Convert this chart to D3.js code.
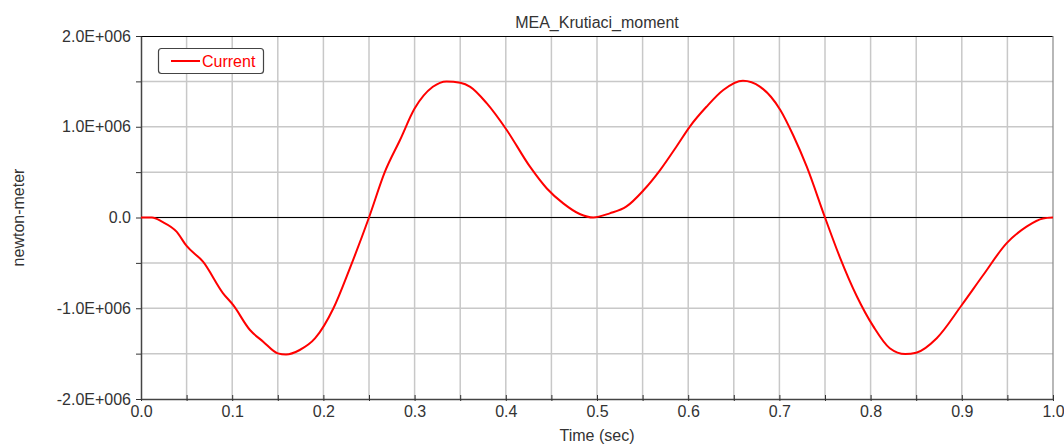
<!DOCTYPE html>
<html>
<head>
<meta charset="utf-8">
<script src="https://cdn.jsdelivr.net/npm/d3@7"></script>
<style>
  html, body { margin: 0; padding: 0; background: #fff; }
  svg { display: block; }
  text { font-family: "Liberation Sans", Arial, sans-serif; }
</style>
</head>
<body>
<svg id="chart" width="1064" height="445"></svg>
<script>
// ---- data ----
const title = "MEA_Krutiaci_moment";
const xLabel = "Time (sec)";
const yLabel = "newton-meter";
const seriesName = "Current";
const time = [0.000, 0.012, 0.023, 0.039, 0.050, 0.068, 0.090, 0.101, 0.1195, 0.134, 0.150, 0.159, 0.174, 0.191, 0.211, 0.229, 0.250,
  0.2675, 0.284, 0.300, 0.320, 0.335, 0.350, 0.361, 0.379, 0.401, 0.4265, 0.445, 0.463, 0.481, 0.496, 0.514, 0.532, 0.551,
  0.569, 0.587, 0.602, 0.620, 0.6385, 0.660, 0.679, 0.701, 0.715, 0.730, 0.750, 0.766, 0.785, 0.803, 0.821, 0.838, 0.850,
  0.8725, 0.900, 0.9235, 0.949, 0.971, 0.989, 1.000];
const moment = [0, 0, -0.046e6, -0.156e6, -0.314e6, -0.487e6, -0.835e6, -0.964e6, -1.24e6, -1.368e6, -1.497e6, -1.51e6, -1.46e6, -1.33e6, -1.0e6, -0.56e6, 0,
  0.505e6, 0.854e6, 1.20e6, 1.44e6, 1.50e6, 1.485e6, 1.44e6, 1.26e6, 0.964e6, 0.56e6, 0.32e6, 0.156e6, 0.039e6, 0, 0.046e6, 0.119e6, 0.30e6,
  0.52e6, 0.78e6, 1.005e6, 1.22e6, 1.405e6, 1.507e6, 1.44e6, 1.185e6, 0.909e6, 0.56e6, 0, -0.43e6, -0.87e6, -1.2e6, -1.44e6, -1.504e6, -1.49e6,
  -1.33e6, -0.964e6, -0.634e6, -0.285e6, -0.10e6, -0.01e6, 0];
const xTickLabels = ["0.0","0.1","0.2","0.3","0.4","0.5","0.6","0.7","0.8","0.9","1.0"];
const yTickLabels = ["-2.0E+006","-1.0E+006","0.0","1.0E+006","2.0E+006"];
const yTickValues = [-2e6, -1e6, 0, 1e6, 2e6];

// ---- layout ----
const L = 141, R = 1053, T = 36, B = 399;
const svg = d3.select("#chart");
const x = d3.scaleLinear().domain([0, 1]).range([L, R]);
const y = d3.scaleLinear().domain([-2e6, 2e6]).range([B, T]);

const xGrid = d3.range(0, 21).map(i => i * 0.05);
const yGrid = d3.range(0, 9).map(i => -2e6 + i * 0.5e6);

// grid
svg.append("g").selectAll("line").data(xGrid.slice(1, -1)).join("line")
  .attr("x1", d => x(d)).attr("x2", d => x(d)).attr("y1", T).attr("y2", B)
  .attr("stroke", "#c8c8c8").attr("stroke-width", 1.5);
svg.append("g").selectAll("line").data(yGrid.slice(1, -1)).join("line")
  .attr("x1", L).attr("x2", R).attr("y1", d => y(d)).attr("y2", d => y(d))
  .attr("stroke", "#c8c8c8").attr("stroke-width", 1.5);

// zero line
svg.append("line").attr("x1", L).attr("x2", R).attr("y1", y(0)).attr("y2", y(0))
  .attr("stroke", "#000").attr("stroke-width", 1);

// frame top/right
svg.append("line").attr("x1", L).attr("x2", R).attr("y1", T + 0.5).attr("y2", T + 0.5).attr("stroke", "#000").attr("stroke-width", 1.2);
svg.append("line").attr("x1", R).attr("x2", R).attr("y1", T).attr("y2", B).attr("stroke", "#888").attr("stroke-width", 1.2);

// axes
const xAxis = d3.axisBottom(x).tickValues(xGrid).tickSizeInner(2).tickSizeOuter(0).tickFormat("");
const gx = svg.append("g").attr("transform", `translate(0,${B})`).call(xAxis);
gx.select(".domain").attr("stroke", "#444").attr("stroke-width", 1.5);
gx.selectAll(".tick line").attr("stroke", "#333").attr("y1", -4).attr("y2", 2);

const xLabAxis = d3.axisBottom(x).tickValues(xTickLabels.map(Number)).tickSize(0).tickPadding(7)
  .tickFormat((d, i) => xTickLabels[i]);
const gxl = svg.append("g").attr("transform", `translate(0,${B})`).call(xLabAxis);
gxl.select(".domain").remove();
gxl.selectAll("text").attr("font-size", 16).attr("fill", "#333")
  .attr("font-family", "Liberation Sans, Arial, sans-serif");

const yAxis = d3.axisLeft(y).tickValues(yGrid).tickSizeInner(5).tickSizeOuter(0).tickFormat("");
const gy = svg.append("g").attr("transform", `translate(${L},0)`).call(yAxis);
gy.select(".domain").attr("stroke", "#444").attr("stroke-width", 1.5);
gy.selectAll(".tick line").attr("stroke", "#333");

const yLabAxis = d3.axisLeft(y).tickValues(yTickValues).tickSize(0).tickPadding(10)
  .tickFormat((d, i) => yTickLabels[i]);
const gyl = svg.append("g").attr("transform", `translate(${L},0)`).call(yLabAxis);
gyl.select(".domain").remove();
gyl.selectAll("text").attr("font-size", 16).attr("fill", "#333")
  .attr("font-family", "Liberation Sans, Arial, sans-serif");

// series
const data = time.map((t, i) => [t, moment[i]]);
const line = d3.line().x(d => x(d[0])).y(d => y(d[1])).curve(d3.curveMonotoneX);
svg.append("path").datum(data).attr("d", line)
  .attr("fill", "none").attr("stroke", "#ff0000").attr("stroke-width", 2);

// title and labels
svg.append("text").attr("x", (L + R) / 2).attr("y", 28).attr("text-anchor", "middle")
  .attr("font-size", 16).attr("fill", "#333").text(title);
svg.append("text").attr("x", (L + R) / 2).attr("y", 441).attr("text-anchor", "middle")
  .attr("font-size", 16).attr("fill", "#333").text(xLabel);
svg.append("text").attr("transform", `translate(24,${(T + B) / 2}) rotate(-90)`).attr("text-anchor", "middle")
  .attr("font-size", 16).attr("fill", "#333").text(yLabel);

// legend
const lg = svg.append("g");
lg.append("rect").attr("x", 158.5).attr("y", 48.5).attr("width", 105).attr("height", 25).attr("rx", 3)
  .attr("fill", "#fff").attr("stroke", "#444").attr("stroke-width", 1.2);
lg.append("line").attr("x1", 171).attr("x2", 200).attr("y1", 61).attr("y2", 61)
  .attr("stroke", "#ff0000").attr("stroke-width", 2);
lg.append("text").attr("x", 202).attr("y", 67).attr("font-size", 16).attr("fill", "#ff0000").text(seriesName);
</script>
</body>
</html>
